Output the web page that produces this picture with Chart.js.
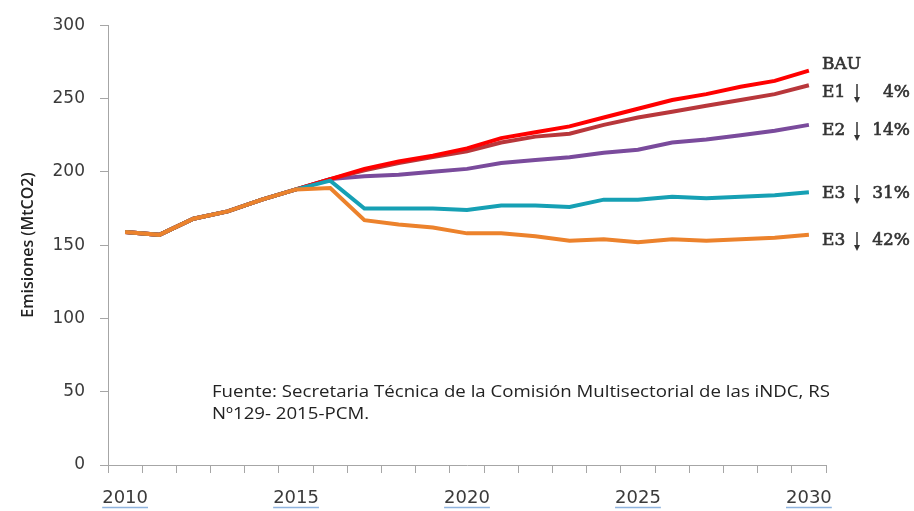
<!DOCTYPE html>
<html lang="es">
<head>
<meta charset="UTF-8" />
<title>Emisiones MtCO2</title>
<script src="https://cdn.jsdelivr.net/npm/chart.js"></script>
<style>
body { margin: 0; padding: 0; background: #fff; }
#wrap { position: relative; width: 914px; height: 511px; }
</style>
</head>
<body>
<div id="wrap"><canvas id="chart" width="914" height="511"></canvas></div>
<script>
const years = ['2010','2011','2012','2013','2014','2015','2016','2017','2018','2019','2020',
               '2021','2022','2023','2024','2025','2026','2027','2028','2029','2030'];
const bau = [159,157,168,173,181,188,195,202,207,211,216,223,227,231,237,243,249,253,258,262,269];
const e1  = [159,157,168,173,181,188,195,201,206,210,214,220,224,226,232,237,241,245,249,253,259];
const e2  = [159,157,168,173,181,188,195,197,198,200,202,206,208,210,213,215,220,222,225,228,232];
const e3a = [159,157,168,173,181,188,194,175,175,175,174,177,177,176,181,181,183,182,183,184,186];
const e3b = [159,157,168,173,181,188,189,167,164,162,158,158,156,153,154,152,154,153,154,155,157];
const seriesNames = ['BAU', 'E1', 'E2', 'E3', 'E3'];
const seriesCuts = ['', '4%', '14%', '31%', '42%'];
const yTicks = [0, 50, 100, 150, 200, 250, 300];
const sourceLines = ['Fuente: Secretaria Técnica de la Comisión Multisectorial de las iNDC, RS',
                     'Nº129- 2015-PCM.'];

const axisGrey = '#a6a6a6';

function line(label, data, color, order) {
  return { label, data, borderColor: color, backgroundColor: color, borderWidth: 4,
           pointRadius: 0, tension: 0, fill: false, order };
}

// end labels + source note + underlined year labels
const annotations = {
  id: 'annotations',
  afterDraw(chart) {
    const ctx = chart.ctx;
    const x = chart.scales.x;
    ctx.save();

    // underline under the year labels
    ctx.font = '18px "DejaVu Sans"';
    ctx.strokeStyle = '#8fb3de';
    ctx.lineWidth = 1.5;
    years.forEach((y, i) => {
      if (+y % 5 !== 0) return;
      const px = x.getPixelForValue(i);
      const w = ctx.measureText(y).width;
      ctx.beginPath();
      ctx.moveTo(px - w / 2, 507.5);
      ctx.lineTo(px + w / 2, 507.5);
      ctx.stroke();
    });

    // scenario labels at the right
    const baselines = [69, 97, 135, 198, 245];
    ctx.fillStyle = '#333';
    ctx.strokeStyle = '#333';
    ctx.font = '17px "DejaVu Serif"';
    ctx.textBaseline = 'alphabetic';
    const label = (t, px, b) => {
      ctx.lineWidth = 0.6;
      ctx.fillText(t, px, b);
      ctx.strokeText(t, px, b);
    };
    seriesNames.forEach((name, i) => {
      const b = baselines[i];
      ctx.textAlign = 'left';
      label(name, 822, b);
      if (!seriesCuts[i]) return;
      // down arrow
      const ax = 857;
      ctx.lineWidth = 1.5;
      ctx.beginPath();
      ctx.moveTo(ax, b - 13);
      ctx.lineTo(ax, b + 4);
      ctx.stroke();
      ctx.beginPath();
      ctx.moveTo(ax - 3, b);
      ctx.lineTo(ax, b + 6);
      ctx.lineTo(ax + 3, b);
      ctx.closePath();
      ctx.fill();
      ctx.textAlign = 'right';
      label(seriesCuts[i], 910, b);
    });

    // source note
    ctx.fillStyle = '#222';
    ctx.textAlign = 'left';
    ctx.font = '17px "Open Sans"';
    const sx = 618 / ctx.measureText(sourceLines[0]).width;
    sourceLines.forEach((t, i) => {
      ctx.save();
      ctx.translate(212, 397 + i * 22);
      ctx.scale(sx, 1);
      ctx.fillText(t, 0, 0);
      ctx.restore();
    });
    ctx.restore();
  }
};

new Chart(document.getElementById('chart'), {
  type: 'line',
  data: {
    labels: years,
    datasets: [
      line('BAU', bau, '#ff0000', 2),
      line('E1', e1, '#b8373b', 3),
      line('E2', e2, '#7a4b9c', 4),
      line('E3 31%', e3a, '#16a0b4', 1),
      line('E3 42%', e3b, '#ec822c', 0)
    ]
  },
  options: {
    responsive: false,
    animation: false,
    layout: { padding: { left: 0, right: 88, top: 24, bottom: 0 } },
    plugins: { legend: { display: false }, tooltip: { enabled: false } },
    scales: {
      x: {
        type: 'category',
        offset: true,
        grid: { offset: true, drawOnChartArea: false, color: axisGrey, tickLength: 8 },
        border: { color: axisGrey, width: 1 },
        ticks: {
          autoSkip: false, maxRotation: 0, padding: 15, color: '#3a3a3a',
          font: { family: 'DejaVu Sans', size: 18 },
          callback: (v, i) => (+years[i] % 5 === 0 ? years[i] : '')
        },
        afterFit(scale) { scale.height = 46; }
      },
      y: {
        min: 0, max: 300,
        afterBuildTicks(scale) { scale.ticks = yTicks.map(v => ({ value: v })); },
        grid: { drawOnChartArea: false, color: axisGrey, tickLength: 8 },
        border: { color: axisGrey, width: 1 },
        ticks: { padding: 15, color: '#3a3a3a', font: { family: 'DejaVu Sans', size: 17 } },
        title: {
          display: true, text: 'Emisiones (MtCO2)', color: '#222',
          font: { family: 'Open Sans', size: 16, weight: '600' }, padding: { top: 19, bottom: 0 }
        },
        afterFit(scale) { scale.width = 108; }
      }
    }
  },
  plugins: [annotations]
});
</script>
</body>
</html>
